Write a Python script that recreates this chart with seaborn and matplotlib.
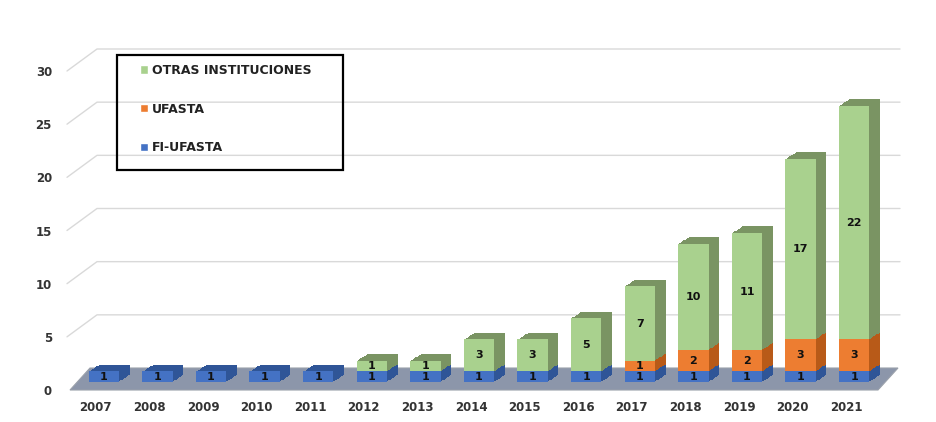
import numpy as np
import pandas as pd
import matplotlib
matplotlib.use('Agg')
import matplotlib.pyplot as plt
import matplotlib.patheffects as pe
from matplotlib.patches import Patch, Rectangle, Polygon
from matplotlib.lines import Line2D
from matplotlib.transforms import ScaledTranslation
import seaborn as sns

# datos del grafico
years = ['2007', '2008', '2009', '2010', '2011', '2012', '2013', '2014',
         '2015', '2016', '2017', '2018', '2019', '2020', '2021']
fi_ufasta = [1, 1, 1, 1, 1, 1, 1, 1, 1, 1, 1, 1, 1, 1, 1]
ufasta = [0, 0, 0, 0, 0, 0, 0, 0, 0, 0, 1, 2, 2, 3, 3]
otras = [0, 0, 0, 0, 0, 1, 1, 3, 3, 5, 7, 10, 11, 17, 22]

series = ['FI-UFASTA', 'UFASTA', 'OTRAS INSTITUCIONES']
colors = {'FI-UFASTA': '#4472C4', 'UFASTA': '#ED7D31', 'OTRAS INSTITUCIONES': '#A9D18E'}
sides = {'FI-UFASTA': '#2F5597', 'UFASTA': '#B85A18', 'OTRAS INSTITUCIONES': '#7A9463'}

df = pd.DataFrame({'year': years, 'FI-UFASTA': fi_ufasta,
                   'UFASTA': ufasta, 'OTRAS INSTITUCIONES': otras})

sns.set_style('white')
plt.rcParams['font.family'] = ['DejaVu Sans']

W, H = 937, 422
fig = plt.figure(figsize=(W / 100, H / 100), dpi=100)
# ejes: y=0 en 382 px, 30 en 63 px; x de 77 a 881 px
ax = fig.add_axes([77 / W, 1 - 382 / H, (881 - 77) / W, (382 - 63) / H])
ax.set_ylim(0, 30)
ax.set_xlim(-0.5, len(years) - 0.5)

# efecto 3D: varias sombras desplazadas forman el lateral y la tapa
depth = [(k * 0.95, k * 0.6) for k in range(8, 0, -1)]

bottom = np.zeros(len(df))
for s in series:
    sns.barplot(data=df, x='year', y=s, bottom=bottom, color=colors[s],
                width=0.57, saturation=1, ax=ax, order=years, linewidth=0,
                zorder=3)
    cont = ax.containers[-1]
    effects = [pe.SimplePatchShadow(offset=o, shadow_rgbFace=sides[s], alpha=1)
               for o in depth] + [pe.Normal()]
    for p in cont:
        p.set_path_effects(effects)
    for i, v in enumerate(df[s]):
        if v > 0:
            ax.text(i, bottom[i] + v / 2, str(v), ha='center', va='center',
                    fontsize=8, fontweight='bold', color='#111111', zorder=5)
    bottom = bottom + df[s].values

ax.set_ylim(0, 30)
ax.set_xlim(-0.5, len(years) - 0.5)
ax.set_yticks([0, 5, 10, 15, 20, 25, 30])
ax.grid(False)
for sp in ax.spines.values():
    sp.set_visible(False)
ax.set_xlabel('')
ax.set_ylabel('')
ax.tick_params(axis='both', length=0, labelsize=8.5, colors='#333333')
ax.tick_params(axis='y', pad=18)
ax.tick_params(axis='x', pad=14)
dx = ScaledTranslation(-0.08, 0, fig.dpi_scale_trans)
dy = ScaledTranslation(0, -0.08, fig.dpi_scale_trans)
for t in ax.get_xticklabels():
    t.set_fontweight('bold')
    t.set_transform(t.get_transform() + dx)
for t in ax.get_yticklabels():
    t.set_fontweight('bold')
    t.set_transform(t.get_transform() + dy)

# pared del fondo y piso en perspectiva (pixeles)
fig.canvas.draw()
x_left = ax.transAxes.transform((0, 0))[0]
x_right = ax.transAxes.transform((1, 0))[0]
for v in [5, 10, 15, 20, 25, 30]:
    yd = ax.transData.transform((0, v))[1]
    fig.add_artist(Line2D([x_left - 10, x_left + 20, x_right + 19],
                          [yd - 8, yd + 14, yd + 14], color='#D9D9D9',
                          lw=1, transform=None, zorder=0))
y0 = ax.transData.transform((0, 0))[1]
floor = Polygon([[x_left - 7, y0 - 8], [x_right - 3, y0 - 8],
                 [x_right + 17, y0 + 14], [x_left + 13, y0 + 14]],
                closed=True, facecolor='#8C96AA', edgecolor='#9AA0AA',
                lw=0.8, transform=None, zorder=0.5)
fig.add_artist(floor)
ax.set_zorder(1)
ax.patch.set_alpha(0)

# leyenda
fig.add_artist(Rectangle((117 / W, 1 - 170 / H), 226 / W, 115 / H,
                         transform=fig.transFigure, fill=False,
                         edgecolor='black', lw=1.6, zorder=4))
handles = [Patch(facecolor=colors[s]) for s in series[::-1]]
leg = fig.legend(handles, series[::-1], loc='upper left',
                 bbox_to_anchor=(140 / W, 1 - 64 / H), frameon=False,
                 labelspacing=2.05, handlelength=0.65, handleheight=0.65,
                 handletextpad=0.3, borderpad=0, borderaxespad=0,
                 prop={'weight': 'bold', 'size': 9})
for t in leg.get_texts():
    t.set_color('#222222')

fig.savefig('out.png', dpi=100)
